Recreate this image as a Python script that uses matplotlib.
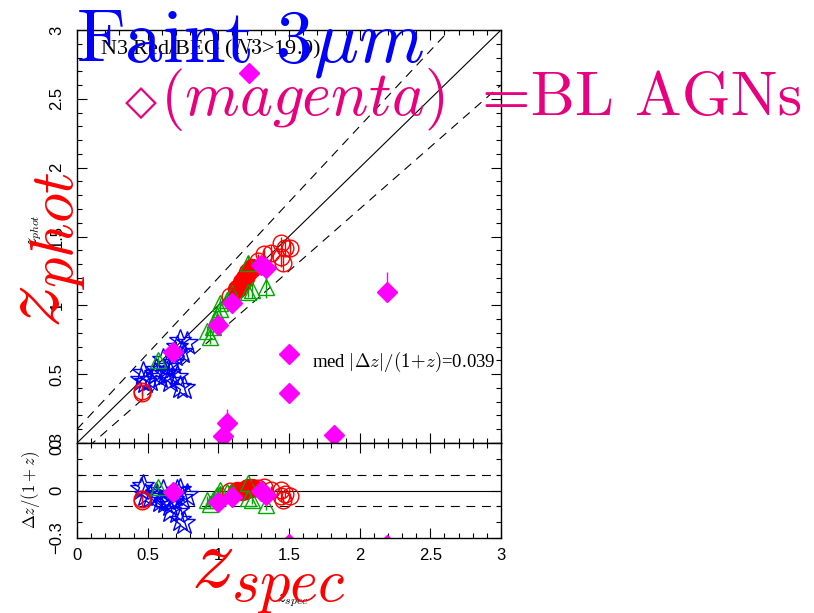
import matplotlib
matplotlib.use('Agg')
import matplotlib.pyplot as plt
import numpy as np
from matplotlib.ticker import MultipleLocator, FuncFormatter

plt.rcParams['mathtext.fontset'] = 'cm'
plt.rcParams['font.family'] = ['Liberation Sans', 'DejaVu Sans']

# ---------------- data (z_spec, z_phot) ----------------
blue_zs = [0.45, 0.52, 0.59, 0.66, 0.71, 0.73, 0.76, 0.71, 0.68, 0.64, 0.56, 0.47, 0.61, 0.74, 0.69, 0.55, 0.62, 0.48, 0.66, 0.78, 0.73]
blue_zp = [0.46, 0.46, 0.48, 0.51, 0.48, 0.41, 0.40, 0.70, 0.58, 0.55, 0.53, 0.51, 0.60, 0.66, 0.64, 0.50, 0.50, 0.44, 0.45, 0.73, 0.74]

green_zs = [0.57, 0.92, 0.94, 0.96, 0.99, 1.01, 1.06, 1.10, 1.21, 1.24, 1.34, 1.21, 1.01, 0.98]
green_zp = [0.60, 0.81, 0.77, 0.84, 0.93, 0.97, 1.04, 1.09, 1.31, 1.11, 1.13, 1.10, 1.02, 0.90]
green_err = [0.03, 0.04, 0.05, 0.04, 0.03, 0.04, 0.03, 0.04, 0.05, 0.06, 0.08, 0.04, 0.03, 0.04]

redo_zs = [1.47, 1.44, 1.51, 1.37, 1.44, 1.46, 1.32, 1.28, 1.08, 0.46, 0.46]
redo_zp = [1.42, 1.45, 1.42, 1.38, 1.35, 1.31, 1.37, 1.32, 1.07, 0.36, 0.38]
redo_err = [0.06, 0.05, 0.05, 0.06, 0.07, 0.06, 0.05, 0.05, 0.04, 0.05, 0.04]

redf_zs = [1.13, 1.17, 1.21, 1.24, 1.19]
redf_zp = [1.12, 1.17, 1.24, 1.27, 1.20]

mag_zs = [1.22, 2.19, 1.50, 1.50, 1.06, 1.03, 1.82, 0.68, 1.00, 1.10, 1.30, 1.34]
mag_zp = [2.69, 1.10, 0.65, 0.36, 0.145, 0.05, 0.06, 0.66, 0.86, 1.02, 1.29, 1.27]
mag_err_lo = [0.0, 0.0, 0.0, 0.0, 0.0, 0.0, 0.0, 0.0, 0.0, 0.0, 0.0, 0.08]
mag_err_hi = [0.0, 0.14, 0.0, 0.0, 0.10, 0.0, 0.0, 0.0, 0.0, 0.0, 0.0, 0.0]

dz_band = 0.1
xticks_lbl = [0, 0.5, 1, 1.5, 2, 2.5, 3]

C_BLUE = '#0000FF'
C_RED = '#FF0000'
C_GREEN = '#00A800'
C_MAG = '#FF00FF'
C_PINK = '#E8007F'

def res(zs, zp):
    zs = np.asarray(zs); zp = np.asarray(zp)
    return (zp - zs) / (1 + zs)

W, H = 814, 613
fig = plt.figure(figsize=(W / 100, H / 100), dpi=100)
ax1 = fig.add_axes([77 / W, 1 - 443 / H, (501 - 77) / W, (443 - 30) / H])
ax2 = fig.add_axes([77 / W, 1 - 538 / H, (501 - 77) / W, (538 - 443) / H])

xx = np.array([0.0, 3.0])
dash = (0, (8, 6))
ax1.plot(xx, xx, color='black', lw=0.8)
ax1.plot(xx, xx + dz_band * (1 + xx), color='black', lw=0.8, ls=dash)
ax1.plot(xx, xx - dz_band * (1 + xx), color='black', lw=0.8, ls=dash)
ax2.axhline(0, color='black', lw=0.8)
ax2.axhline(dz_band, color='black', lw=0.8, ls=dash)
ax2.axhline(-dz_band, color='black', lw=0.8, ls=dash)

for ax, yfun in ((ax1, lambda zs, zp: np.asarray(zp)), (ax2, res)):
    ax.plot(blue_zs, yfun(blue_zs, blue_zp), ls='none', marker='*', ms=17,
            mfc='none', mec=C_BLUE, mew=1.0)
    ax.errorbar(green_zs, yfun(green_zs, green_zp),
                yerr=(np.asarray(green_err) / ((1 + np.asarray(green_zs)) if ax is ax2 else 1)),
                ls='none', marker='^', ms=11, mfc='none', mec=C_GREEN, mew=1.0,
                ecolor=C_GREEN, elinewidth=1.0)
    ax.errorbar(redo_zs, yfun(redo_zs, redo_zp),
                yerr=(np.asarray(redo_err) / ((1 + np.asarray(redo_zs)) if ax is ax2 else 1)),
                ls='none', marker='o', ms=12, mfc='none', mec=C_RED, mew=1.0,
                ecolor=C_RED, elinewidth=1.0)
    ax.plot(redf_zs, yfun(redf_zs, redf_zp), ls='none', marker='o', ms=13,
            mfc=C_RED, mec=C_RED)
    scale = (1 + np.asarray(mag_zs)) if ax is ax2 else 1
    ax.errorbar(mag_zs, yfun(mag_zs, mag_zp),
                yerr=[np.asarray(mag_err_lo) / scale, np.asarray(mag_err_hi) / scale],
                ls='none', marker='D', ms=10, mfc=C_MAG, mec=C_MAG,
                ecolor=C_MAG, elinewidth=1.0)

fmt = FuncFormatter(lambda v, p: ('%g' % v).replace('-', '\u2212'))
for ax in (ax1, ax2):
    ax.set_xlim(0, 3)
    ax.xaxis.set_major_locator(MultipleLocator(0.5))
    ax.xaxis.set_minor_locator(MultipleLocator(0.1))
    ax.tick_params(which='both', direction='in', top=True, right=True,
                   width=0.8, labelsize=12, color='black')
    ax.tick_params(which='major', length=7)
    ax.tick_params(which='minor', length=3.6)
    ax.tick_params(axis='y', pad=9)
    ax.tick_params(axis='x', pad=7)
    for s in ax.spines.values():
        s.set_linewidth(1.0)
    ax.yaxis.set_major_formatter(fmt)
    ax.xaxis.set_major_formatter(fmt)

ax1.set_ylim(0, 3)
ax1.yaxis.set_major_locator(MultipleLocator(0.5))
ax1.yaxis.set_minor_locator(MultipleLocator(0.1))
ax1.tick_params(axis='x', labelbottom=False)
ax2.set_ylim(-0.3, 0.3)
ax2.set_yticks([-0.3, 0, 0.3])
ax2.yaxis.set_minor_locator(MultipleLocator(0.1))
ax2.set_xticks(xticks_lbl)
for lbl in ax2.get_yticklabels() + ax1.get_yticklabels():
    lbl.set_rotation(90)
    lbl.set_va('center')

ax1.text(0.16, 2.86, r'N3 Red/BEG ($N3$>19.9)', fontsize=16, family='Liberation Serif',
         va='center', ha='left', color='black')
ax1.text(1.66, 0.59, r'med $|\Delta z|/(1\!+\!z)$=0.039', fontsize=13.5, family='Liberation Serif',
         va='center', ha='left', color='black')

# small black axis labels
fig.text(36 / W, 1 - 230 / H, r'$z_{phot}$', fontsize=12, rotation=90, ha='center', va='center')
fig.text(293 / W, 1 - 601 / H, r'$z_{spec}$', fontsize=12, ha='center', va='center')
fig.text(30 / W, 1 - 490 / H, r'$\Delta z/(1+z)$', fontsize=12, rotation=90, ha='center', va='center')

# big overlay texts
fig.text(76 / W, 1 - 62 / H, r'$\mathrm{Faint\ 3}\mu m$', fontsize=54, color=C_BLUE,
         ha='left', va='baseline')
fig.text(125 / W, 1 - 115 / H, '\u25c7', fontsize=30, family='DejaVu Sans',
         color=C_PINK, ha='left', va='baseline', fontweight='bold')
fig.text(160 / W, 1 - 115 / H, r'$(magenta)$', fontsize=45,
         color=C_PINK, ha='left', va='baseline')
fig.text(482 / W, 1 - 115 / H, '=BL AGNs', fontsize=45, family='cmr10',
         color=C_PINK, ha='left', va='baseline')
fig.text(48 / W, 1 - 250 / H, r'$z_{phot}$', fontsize=62, color=C_RED, rotation=90,
         ha='center', va='center')
fig.text(268 / W, 1 - 576 / H, r'$z_{spec}$', fontsize=62, color=C_RED,
         ha='center', va='center')

fig.savefig('out.png', dpi=100)
